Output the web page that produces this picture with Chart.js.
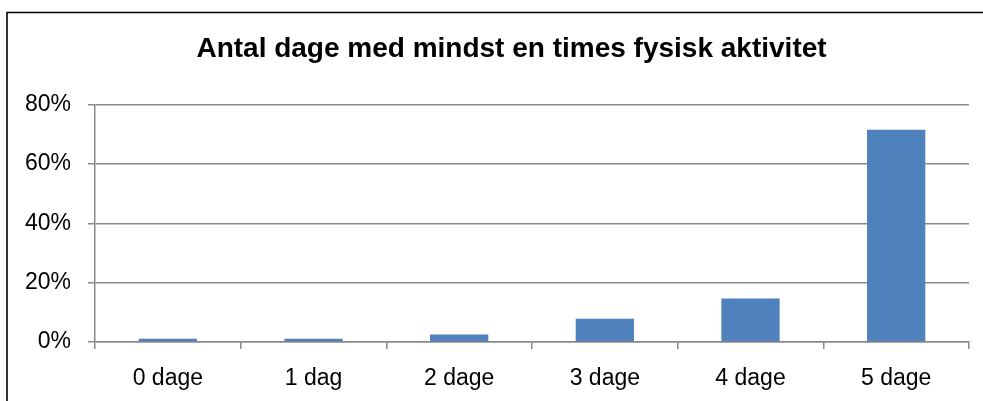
<!DOCTYPE html>
<html>
<head>
<meta charset="utf-8">
<script src="https://cdn.jsdelivr.net/npm/chart.js@4"></script>
<style>
  html, body { margin: 0; padding: 0; background: #fff; }
  #wrap { width: 983px; height: 401px; position: relative; }
</style>
</head>
<body>
<div id="wrap"><canvas id="activityChart"></canvas></div>
<script>
// chart data
const categories = ["0 dage", "1 dag", "2 dage", "3 dage", "4 dage", "5 dage"];
const shares = [1.1, 1.1, 2.5, 7.8, 14.7, 71.5]; // percent
const yTicks = [0, 20, 40, 60, 80];
const titleText = "Antal dage med mindst en times fysisk aktivitet";

const gridGray = "#898989";
const titleFont = { family: "Liberation Sans", size: 28, weight: "bold", lineHeight: 1.2 };

// black frame along the left and top edge (the picture is cropped),
// and the title redrawn a bit right of the canvas centre like the original
const framePlugin = {
    id: "frame",
    afterDraw(chart) {
        const ctx = chart.ctx;
        ctx.save();
        ctx.strokeStyle = "#000";
        ctx.lineWidth = 1.6;
        ctx.beginPath();
        ctx.moveTo(7, 401);
        ctx.lineTo(7, 12.5);
        ctx.lineTo(983, 12.5);
        ctx.stroke();

        const tb = chart.titleBlock;
        const y = tb.top + tb.options.padding.top + titleFont.size * titleFont.lineHeight / 2;
        ctx.fillStyle = "#000";
        ctx.font = "bold " + titleFont.size + "px 'Liberation Sans'";
        ctx.textAlign = "center";
        ctx.textBaseline = "middle";
        ctx.fillText(titleText, 511.5, y);
        ctx.restore();
    }
};

document.addEventListener("DOMContentLoaded", function () {
    const ctx = document.getElementById("activityChart").getContext("2d");
    new Chart(ctx, {
        type: "bar",
        data: {
            labels: categories,
            datasets: [{
                data: shares,
                backgroundColor: "#4F81BD",
                borderWidth: 0,
                categoryPercentage: 1,
                barPercentage: 0.4
            }]
        },
        options: {
            responsive: true,
            maintainAspectRatio: false,
            animation: false,
            layout: { padding: { left: 0, right: 14, top: 0, bottom: 0 } },
            plugins: {
                legend: { display: false },
                tooltip: { enabled: false },
                title: {
                    // keeps the space; the visible text is drawn by framePlugin
                    display: true,
                    text: titleText,
                    color: "rgba(0,0,0,0)",
                    font: titleFont,
                    padding: { top: 32, bottom: 39 }
                }
            },
            scales: {
                x: {
                    grid: {
                        display: true,
                        offset: true,
                        drawOnChartArea: false,
                        tickLength: 7,
                        color: gridGray,
                        lineWidth: 1.5
                    },
                    border: { display: true, color: gridGray, width: 1.5 },
                    ticks: {
                        color: "#000",
                        padding: 16,
                        font: { family: "Liberation Sans", size: 23 }
                    },
                    afterFit(scale) { scale.height = 59; }
                },
                y: {
                    min: 0,
                    max: 80,
                    afterBuildTicks(scale) {
                        scale.ticks = yTicks.map(v => ({ value: v }));
                    },
                    grid: {
                        color: gridGray,
                        lineWidth: 1.5,
                        tickLength: 7
                    },
                    border: { display: true, color: gridGray, width: 1.5 },
                    ticks: {
                        color: "#000",
                        padding: 17,
                        font: { family: "Liberation Sans", size: 23 },
                        callback: v => v + "%"
                    },
                    afterFit(scale) { scale.width = 95; }
                }
            }
        },
        plugins: [framePlugin]
    });
});
</script>
</body>
</html>
